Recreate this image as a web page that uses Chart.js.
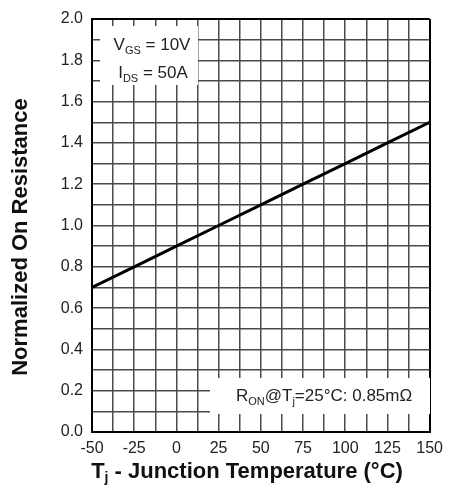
<!DOCTYPE html>
<html lang="en">
<head>
    <meta charset="UTF-8">
    <title>Normalized On Resistance vs Junction Temperature</title>
    <style>
        html, body { margin: 0; padding: 0; background: #fff; }
        #wrap { width: 450px; height: 488px; }
    </style>
</head>
<body>
    <div id="wrap"><canvas id="ron_chart" width="450" height="488"></canvas></div>
</body>
<script src="https://cdn.jsdelivr.net/npm/chart.js@4.4.0/dist/chart.umd.min.js"></script>
<script>
    // curve
    const temperatures = [-50, -25, 0, 25, 50, 75, 100, 125, 150];
    const resistance = [0.70, 0.80, 0.90, 1.00, 1.10, 1.20, 1.30, 1.40, 1.50];

    const xTickLabels = ['-50', '-25', '0', '25', '50', '75', '100', '125', '150'];
    const yTickLabels = ['0.0', '0.2', '0.4', '0.6', '0.8', '1.0', '1.2', '1.4', '1.6', '1.8', '2.0'];

    const FONT = '"Liberation Sans", Arial, sans-serif';
    const ctx = document.getElementById('ron_chart').getContext('2d');

    // text with a subscript, returns width
    function drawParts(c, parts, x, y, measureOnly) {
        let w = 0;
        parts.forEach(p => {
            c.font = p.font;
            const pw = c.measureText(p.t).width;
            if (!measureOnly) c.fillText(p.t, x + w, y + (p.dy || 0));
            w += pw;
        });
        return w;
    }

    const notes = {
        id: 'notes',
        beforeDatasetsDraw(chart) {
            const c = chart.ctx;
            c.save();
            c.fillStyle = '#fff';
            c.fillRect(100, 26, 98, 59);
            c.fillRect(210, 378, 220, 36);
            c.restore();
        },
        afterDraw(chart) {
            const c = chart.ctx;
            c.save();
            c.fillStyle = '#222';
            c.textBaseline = 'alphabetic';
            c.textAlign = 'left';
            const reg = '17px ' + FONT;
            const sub = '11px ' + FONT;

            let l1 = [{t: 'V', font: reg}, {t: 'GS', font: sub, dy: 4}, {t: ' = 10V', font: reg}];
            let w = drawParts(c, l1, 0, 0, true);
            drawParts(c, l1, 152 - w / 2, 50);
            let l2 = [{t: 'I', font: reg}, {t: 'DS', font: sub, dy: 4}, {t: ' = 50A', font: reg}];
            w = drawParts(c, l2, 0, 0, true);
            drawParts(c, l2, 153 - w / 2, 78);

            let l3 = [{t: 'R', font: reg}, {t: 'ON', font: sub, dy: 4}, {t: '@T', font: reg},
                      {t: 'j', font: sub, dy: 4}, {t: '=25°C: 0.85mΩ', font: reg}];
            drawParts(c, l3, 236, 401);

            // axis titles
            c.fillStyle = '#111';
            const bold = 'bold 22px ' + FONT;
            let xt = [{t: 'T', font: bold}, {t: 'j', font: 'bold 14px ' + FONT, dy: 4},
                      {t: ' - Junction Temperature (°C)', font: bold}];
            w = drawParts(c, xt, 0, 0, true);
            drawParts(c, xt, 247 - w / 2, 478);

            c.translate(27, 237);
            c.rotate(-Math.PI / 2);
            c.textAlign = 'center';
            c.font = bold;
            c.fillText('Normalized On Resistance', 0, 0);
            c.restore();
        }
    };

    const edge = (ctxg, n) => (ctxg.index === 0 || ctxg.index === n) ? '#000' : '#4a4a4a';
    const edgeW = (ctxg, n) => (ctxg.index === 0 || ctxg.index === n) ? 2 : 1.5;

    new Chart(ctx, {
        type: 'line',
        data: {
            datasets: [{
                data: temperatures.map((t, i) => ({x: t, y: resistance[i]})),
                borderColor: '#000',
                borderWidth: 3,
                pointRadius: 0,
                tension: 0
            }]
        },
        options: {
            responsive: false,
            animation: false,
            layout: { padding: { left: 0, right: 13, top: 19, bottom: 0 } },
            plugins: { legend: { display: false }, tooltip: { enabled: false } },
            scales: {
                x: {
                    type: 'linear',
                    min: -50,
                    max: 150,
                    afterFit: s => { s.height = 56; },
                    afterBuildTicks: s => {
                        s.ticks = [];
                        for (let i = 0; i <= 16; i++) s.ticks.push({value: -50 + i * 12.5});
                    },
                    border: { color: '#000', width: 2 },
                    grid: {
                        drawTicks: false,
                        color: c => edge(c, 16),
                        lineWidth: c => edgeW(c, 16)
                    },
                    ticks: {
                        autoSkip: false,
                        maxRotation: 0,
                        padding: 7,
                        color: '#222',
                        font: { family: FONT, size: 16 },
                        callback: (v, i) => i % 2 === 0 ? xTickLabels[i / 2] : ''
                    }
                },
                y: {
                    min: 0,
                    max: 2,
                    afterFit: s => { s.width = 92; },
                    afterBuildTicks: s => {
                        s.ticks = [];
                        for (let i = 0; i <= 20; i++) s.ticks.push({value: i / 10});
                    },
                    border: { color: '#000', width: 2 },
                    grid: {
                        drawTicks: false,
                        color: c => edge(c, 20),
                        lineWidth: c => edgeW(c, 20)
                    },
                    ticks: {
                        autoSkip: false,
                        padding: 9,
                        color: '#222',
                        font: { family: FONT, size: 16 },
                        callback: (v, i) => i % 2 === 0 ? yTickLabels[i / 2] : ''
                    }
                }
            }
        },
        plugins: [notes]
    });
</script>
</html>
